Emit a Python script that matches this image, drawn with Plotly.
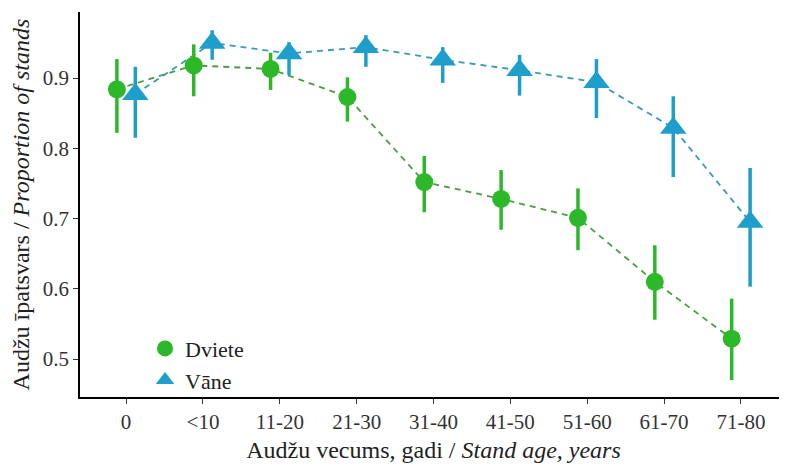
import plotly.graph_objects as go

categories = ["0", "<10", "11-20", "21-30", "31-40", "41-50", "51-60", "61-70", "71-80"]

dviete = [0.884, 0.918, 0.913, 0.873, 0.752, 0.728, 0.701, 0.610, 0.529]
dviete_lo = [0.822, 0.874, 0.883, 0.838, 0.709, 0.684, 0.655, 0.556, 0.470]
dviete_hi = [0.927, 0.948, 0.936, 0.901, 0.789, 0.769, 0.743, 0.662, 0.586]

vane = [0.877, 0.950, 0.935, 0.944, 0.926, 0.911, 0.894, 0.829, 0.695]
vane_lo = [0.815, 0.926, 0.904, 0.916, 0.893, 0.875, 0.843, 0.759, 0.603]
vane_hi = [0.916, 0.968, 0.951, 0.961, 0.944, 0.933, 0.927, 0.874, 0.772]

GREEN = "#2db82a"
BLUE = "#1e9ecb"
GREEN_LINE = "#4a9e42"
BLUE_LINE = "#3a9aba"
DODGE = 0.12

idx = list(range(len(categories)))
xg = [i - DODGE for i in idx]
xb = [i + DODGE for i in idx]

fig = go.Figure()

# dashed connecting lines
fig.add_trace(go.Scatter(x=xg, y=dviete, mode="lines", showlegend=False,
                         line=dict(color=GREEN_LINE, width=1.8, dash="6px,5px"), hoverinfo="skip"))
fig.add_trace(go.Scatter(x=xb, y=vane, mode="lines", showlegend=False,
                         line=dict(color=BLUE_LINE, width=1.8, dash="6px,5px"), hoverinfo="skip"))

# points with error bars
fig.add_trace(go.Scatter(
    x=xg, y=dviete, mode="markers", name="Dviete",
    marker=dict(symbol="circle", size=18, color=GREEN),
    error_y=dict(type="data", symmetric=False,
                 array=[h - v for h, v in zip(dviete_hi, dviete)],
                 arrayminus=[v - l for l, v in zip(dviete_lo, dviete)],
                 width=0, thickness=3.5, color=GREEN)))
fig.add_trace(go.Scatter(
    x=xb, y=vane, mode="markers", name="Vāne",
    marker=dict(symbol="triangle-up", size=23, color=BLUE),
    error_y=dict(type="data", symmetric=False,
                 array=[h - v for h, v in zip(vane_hi, vane)],
                 arrayminus=[v - l for l, v in zip(vane_lo, vane)],
                 width=0, thickness=3.5, color=BLUE)))

SERIF = "Liberation Serif"

# the page body has an 8px margin, so the figure is sized/offset to compensate
fig.update_layout(
    width=779, height=456,
    margin=dict(l=72, r=0, t=4, b=67),
    paper_bgcolor="white", plot_bgcolor="white",
    font=dict(family=SERIF, size=21, color="#222222"),
    legend=dict(x=0.092, y=-0.012, xanchor="left", yanchor="bottom",
                bgcolor="rgba(0,0,0,0)", font=dict(family=SERIF, size=22, color="#222222"),
                tracegroupgap=0),
    xaxis=dict(
        range=[-0.6, 8.6], tickmode="array", tickvals=idx, ticktext=categories,
        showline=True, linecolor="black", linewidth=1.5,
        ticks="outside", ticklen=5, tickcolor="#333333", tickwidth=1.2,
        showgrid=False, zeroline=False,
        tickfont=dict(family=SERIF, size=21, color="#333333"),
        title=dict(text="Audžu vecums, gadi / <i>Stand age, years</i>",
                   font=dict(family=SERIF, size=24, color="#222222"), standoff=8),
    ),
    yaxis=dict(
        range=[0.446, 0.994], tickmode="array", tickvals=[0.5, 0.6, 0.7, 0.8, 0.9],
        ticktext=["0.5", "0.6", "0.7", "0.8", "0.9"],
        showline=True, linecolor="black", linewidth=1.5,
        ticks="outside", ticklen=5, tickcolor="#333333", tickwidth=1.2,
        showgrid=False, zeroline=False,
        tickfont=dict(family=SERIF, size=21, color="#333333"),
        title=dict(text="Audžu īpatsvars / <i>Proportion of stands</i>",
                   font=dict(family=SERIF, size=24, color="#222222"), standoff=6),
    ),
)

fig.write_html("out.html")
